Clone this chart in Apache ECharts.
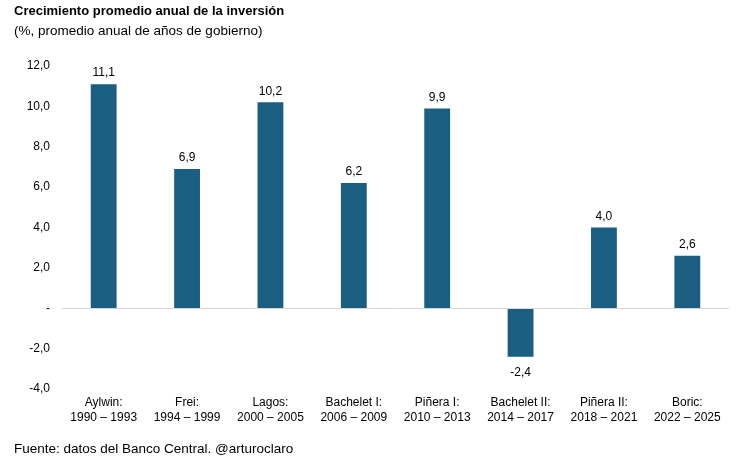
<!DOCTYPE html>
<html><head><meta charset="utf-8">
<script src="https://cdn.jsdelivr.net/npm/echarts@6/dist/echarts.min.js"></script>
<style>html,body{margin:0;padding:0;background:#fff}#c{width:736px;height:462px}</style>
</head><body><div id="c"></div>
<script>
const categories = ["Aylwin:\n1990 – 1993","Frei:\n1994 – 1999","Lagos:\n2000 – 2005","Bachelet I:\n2006 – 2009","Piñera I:\n2010 – 2013","Bachelet II:\n2014 – 2017","Piñera II:\n2018 – 2021","Boric:\n2022 – 2025"];
const values = [11.1, 6.9, 10.2, 6.2, 9.9, -2.4, 4.0, 2.6];
const yTicks = [-4, -2, 0, 2, 4, 6, 8, 10, 12];

const fmt = v => v === 0 ? '-' : v.toFixed(1).replace('.', ',');
const chart = echarts.init(document.getElementById('c'));
chart.setOption({
  animation: false,
  textStyle: {fontFamily: 'Liberation Sans'},
  title: [
    {text: 'Crecimiento promedio anual de la inversión', left: 9, top: 0,
     textStyle: {fontFamily: 'Liberation Sans', fontSize: 13, fontWeight: 'bold', color: '#000'}},
    {text: '(%, promedio anual de años de gobierno)', left: 9, top: 19,
     textStyle: {fontFamily: 'Liberation Sans', fontSize: 13.5, fontWeight: 'normal', color: '#000'}},
    {text: 'Fuente: datos del Banco Central. @arturoclaro', left: 9, top: 437,
     textStyle: {fontFamily: 'Liberation Sans', fontSize: 13.5, fontWeight: 'normal', color: '#000'}}
  ],
  grid: {left: 62, right: 7, top: 66, bottom: 73},
  xAxis: {
    type: 'category', data: categories,
    axisLine: {show: false}, axisTick: {show: false},
    axisLabel: {color: '#000', fontSize: 12, lineHeight: 15, margin: 6, interval: 0}
  },
  yAxis: {
    type: 'value', min: yTicks[0], max: yTicks[yTicks.length-1], interval: 2,
    splitLine: {show: false}, axisLine: {show: false}, axisTick: {show: false},
    axisLabel: {color: '#000', fontSize: 12, margin: 12, formatter: fmt}
  },
  series: [{
    type: 'bar', barWidth: '31%',
    itemStyle: {color: '#1a5f82'},
    data: values.map(v => ({value: v, label: {position: v < 0 ? 'bottom' : 'top', distance: v < 0 ? 10 : 5}})),
    label: {show: true, color: '#000', fontSize: 12, formatter: p => fmt(p.value)},
    markLine: {silent: true, symbol: 'none', label: {show: false},
      lineStyle: {color: '#d9d9d9', type: 'solid', width: 1},
      data: [{yAxis: 0}]}
  }]
});
</script></body></html>
